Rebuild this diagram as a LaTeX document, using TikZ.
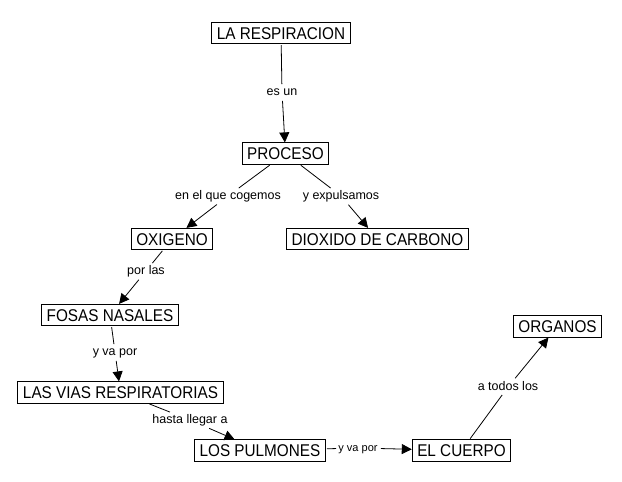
\documentclass[tikz,border=0pt]{standalone}
\usepackage{fontspec}
\setmainfont{Liberation Sans}
\newfontfamily\boxfont[FakeStretch=0.9]{Liberation Sans}
\usetikzlibrary{arrows.meta}
\begin{document}
\begin{tikzpicture}[x=1pt,y=-1pt,
  concept/.style={draw,line width=1pt,font=\boxfont\fontsize{17}{20}\selectfont,
    text height=12.2pt,text depth=0pt,inner xsep=5pt,inner ysep=4.5pt},
  linklabel/.style={font=\fontsize{12.5}{14}\selectfont,text height=9pt,text depth=2.5pt,inner sep=2pt},
  conn/.style={line width=0.8pt,shorten <=1pt},
  arr/.style={conn,-{Triangle[length=10pt,width=10pt]}}]
\fill[white] (0,0) rectangle (622,482);
\useasboundingbox (0,0) rectangle (622,482);
% concepts
\node[concept] (resp) at (281,33) {LA RESPIRACION};
\node[concept] (proceso) at (285.5,153.5) {PROCESO};
\node[concept] (oxigeno) at (172,239) {OXIGENO};
\node[concept] (dioxido) at (377.5,239) {DIOXIDO DE CARBONO};
\node[concept] (fosas) at (110,315) {FOSAS NASALES};
\node[concept] (vias) at (120.5,392.5) {LAS VIAS RESPIRATORIAS};
\node[concept] (pulmones) at (260,450.5) {LOS PULMONES};
\node[concept] (cuerpo) at (461.5,450.5) {EL CUERPO};
\node[concept] (organos) at (557.5,326.5) {ORGANOS};
% link labels
\node[linklabel] (esun) at (282,92) {es un};
\node[linklabel] (cogemos) at (228,196) {en el que cogemos};
\node[linklabel] (expulsamos) at (341,196) {y expulsamos};
\node[linklabel] (porlas) at (146,271) {por las};
\node[linklabel] (vapor) at (115,352) {y va por};
\node[linklabel] (hasta) at (190,420) {hasta llegar a};
\node[linklabel,font=\fontsize{11}{13}\selectfont] (vapordos) at (358,448) {y va por};
\node[linklabel] (todos) at (508,387) {a todos los};
% connectors
\draw[conn] (resp) -- (esun);
\draw[arr] (esun) -- (proceso);
\draw[conn] (proceso) -- (cogemos);
\draw[arr] (cogemos) -- (oxigeno);
\draw[conn] (proceso) -- (expulsamos);
\draw[arr] (expulsamos) -- (dioxido);
\draw[conn] (oxigeno) -- (porlas);
\draw[arr] (porlas) -- (fosas);
\draw[conn] (fosas) -- (vapor);
\draw[arr] (vapor) -- (vias);
\draw[conn] (vias) -- (hasta);
\draw[arr] (hasta) -- (pulmones);
\draw[conn] (pulmones) -- (vapordos);
\draw[arr] (vapordos) -- (cuerpo);
\draw[conn] (cuerpo) -- (todos);
\draw[arr] (todos) -- (organos);
\end{tikzpicture}
\end{document}
